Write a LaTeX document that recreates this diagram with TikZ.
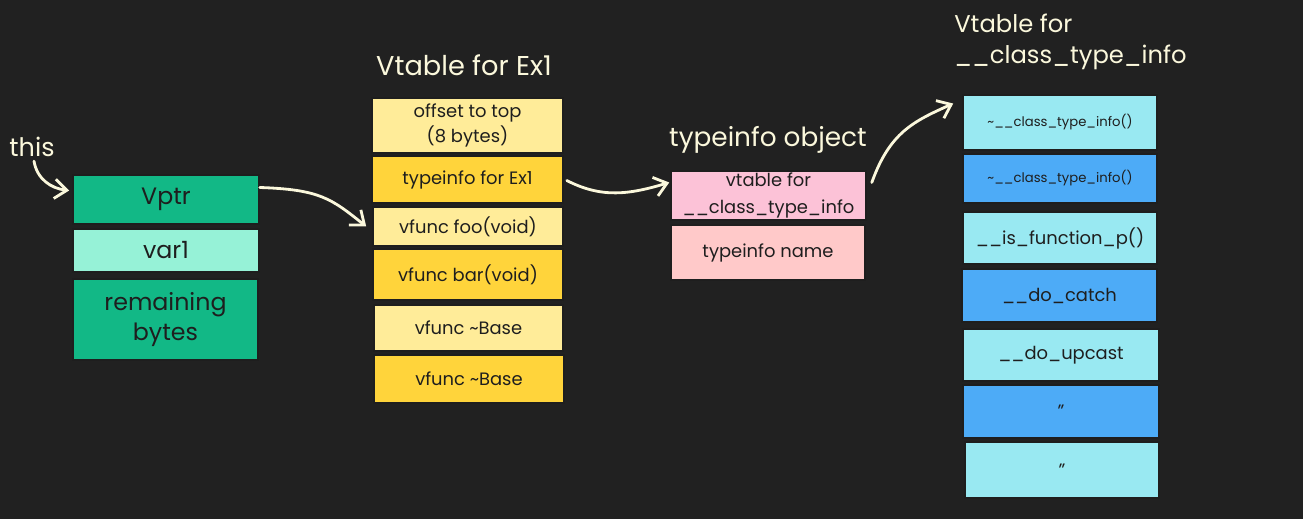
\documentclass[tikz,border=0pt]{standalone}
\usepackage{fontspec}
\setmainfont{Poppins}
\usetikzlibrary{arrows.meta,calc}
\definecolor{bg}{HTML}{212121}
\definecolor{ink}{HTML}{1E1E1E}
\definecolor{cream}{HTML}{FBF8DC}
\definecolor{green}{HTML}{12B886}
\definecolor{teal}{HTML}{96F2D7}
\definecolor{yel}{HTML}{FFD43B}
\definecolor{lyel}{HTML}{FFEC99}
\definecolor{pink}{HTML}{FCC2D7}
\definecolor{lred}{HTML}{FFC9C9}
\definecolor{cyan}{HTML}{99E9F2}
\definecolor{blue}{HTML}{4DABF7}
\tikzset{
  cellstyle/.style={draw=ink, line width=0.9pt, text=ink, inner sep=0pt, align=center},
  titlestyle/.style={text=cream, inner sep=0pt, font=\fontsize{14.5}{17}\selectfont},
  arr/.style={draw=cream, line width=1.6pt, line cap=round, -{Straight Barb[length=7pt,width=11pt,line width=1.6pt]}},
  big/.style={font=\fontsize{13.5}{17}\selectfont},
  mid/.style={font=\fontsize{10.2}{14}\selectfont},
  tiny/.style={font=\fontsize{7.5}{9}\selectfont}
}
\newcommand{\cellbox}[8]{%
  \pgfmathsetmacro\cw{(#4-#2)*0.02}%
  \pgfmathsetmacro\ch{(#5-#3)*0.02}%
  \node[cellstyle, #8, fill=#6, minimum width=\cw cm, minimum height=\ch cm] (#1) at ({(#2+#4)/2},{(#3+#5)/2}) {#7};}
\begin{document}
\begin{tikzpicture}[x=0.02cm, y=-0.02cm]
\fill[bg] (0,0) rectangle (1303,519);
\useasboundingbox (0,0) rectangle (1303,519);

% left object
\node[titlestyle] (thislbl) at (32,147) {this};
\cellbox{vptr}{73}{175}{259}{224}{green}{Vptr}{big}
\cellbox{var}{73}{229}{259}{272}{teal}{var1}{big}
\cellbox{rem}{73}{279}{258}{360}{green}{remaining\\bytes}{big}

% vtable for Ex1
\node[titlestyle, font=\fontsize{15.5}{18}\selectfont] (t1) at (464,65) {Vtable for Ex1};
\cellbox{off}{372}{98}{563}{153}{lyel}{offset to top\\(8 bytes)}{mid}
\cellbox{tfe}{372}{156}{563}{203}{yel}{typeinfo for Ex1}{mid}
\cellbox{foo}{373}{207}{563}{246}{lyel}{vfunc foo(void)}{mid}
\cellbox{bar}{373}{249}{563}{300}{yel}{vfunc bar(void)}{mid}
\cellbox{base1}{374}{305}{563}{351}{lyel}{vfunc \textasciitilde Base}{mid}
\cellbox{base2}{374}{355}{564}{403}{yel}{vfunc \textasciitilde Base}{mid}

% typeinfo object
\node[titlestyle, font=\fontsize{15}{18}\selectfont] (t2) at (768,140) {typeinfo object};
\cellbox{vtf}{671}{171}{866}{220}{pink}{vtable for\\[1pt]\_\_class\_type\_info}{mid}
\cellbox{tname}{671}{225}{865}{280}{lred}{typeinfo name}{mid}

% vtable for __class_type_info
\node[titlestyle, anchor=north west, align=left, font=\fontsize{13.8}{17.5}\selectfont] (t3) at (954,14) {Vtable for\\\_\_class\_type\_info};
\cellbox{c1}{963}{95}{1157}{150}{cyan}{\textasciitilde\_\_class\_type\_info()}{tiny}
\cellbox{c2}{963}{154}{1157}{203}{blue}{\textasciitilde\_\_class\_type\_info()}{tiny}
\cellbox{c3}{963}{212}{1157}{264}{cyan}{\_\_is\_function\_p()}{mid}
\cellbox{c4}{962}{269}{1157}{322}{blue}{\_\_do\_catch}{mid}
\cellbox{c5}{963}{329}{1159}{381}{cyan}{\_\_do\_upcast}{mid}
\cellbox{c6}{963}{385}{1159}{438}{blue}{"}{mid}
\cellbox{c7}{965}{442}{1159}{498}{cyan}{"}{mid}

% connectors
\draw[arr] ($(thislbl.south)+(2,4)$) .. controls +(3,18) and +(-18,-2) .. ($(vptr.west)+(-3,-9)$);
\draw[arr] ($(vptr.east)+(0,-12)$) .. controls +(60,2) and +(-35,-28) .. ($(foo.west)+(-6,0)$);
\draw[arr] ($(tfe.east)+(3,1)$) .. controls +(35,18) and +(-40,12) .. ($(vtf.west)+(-1,-13)$);
\draw[arr] ($(vtf.east)+(5,-13)$) .. controls +(18,-50) and +(-40,18) .. ($(c1.west)+(-9,-19)$);
\end{tikzpicture}
\end{document}
